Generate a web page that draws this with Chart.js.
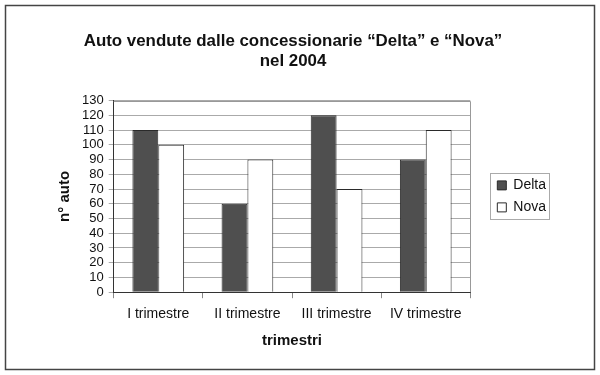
<!DOCTYPE html>
<html>
<head>
<meta charset="utf-8">
<script src="https://cdn.jsdelivr.net/npm/chart.js@4/dist/chart.umd.min.js"></script>
<style>
  html, body { margin: 0; padding: 0; background: #fff; }
  #wrap { width: 600px; height: 375px; }
</style>
</head>
<body>
<div id="wrap"><canvas id="autoChart" width="600" height="375"></canvas></div>
<script>
// dati
const trimestri = ['I trimestre', 'II trimestre', 'III trimestre', 'IV trimestre'];
const delta = [110, 60, 120, 90];
const nova = [100, 90, 70, 110];

// cornice esterna, bordo area del grafico e riquadro legenda
const cornici = {
  id: 'cornici',
  beforeDraw(chart) {
    const ctx = chart.ctx;
    ctx.save();
    ctx.fillStyle = '#fff';
    ctx.fillRect(0, 0, chart.width, chart.height);
    ctx.strokeStyle = '#444';
    ctx.lineWidth = 1.5;
    ctx.strokeRect(5.5, 5.5, chart.width - 11, chart.height - 11);
    ctx.restore();
  },
  afterDraw(chart) {
    const ctx = chart.ctx;
    const a = chart.chartArea;
    ctx.save();
    ctx.strokeStyle = '#999';
    ctx.lineWidth = 1;
    ctx.beginPath();
    ctx.moveTo(a.left, Math.round(a.top) + 0.5);
    ctx.lineTo(Math.round(a.right) + 0.5, Math.round(a.top) + 0.5);
    ctx.lineTo(Math.round(a.right) + 0.5, a.bottom);
    ctx.stroke();
    // riquadro attorno alle voci della legenda
    const hb = chart.legend.legendHitBoxes;
    if (hb && hb.length) {
      const x0 = Math.round(hb[0].left) - 7;
      const y0 = Math.round(hb[0].top) - 5;
      const x1 = Math.round(Math.max(...hb.map(h => h.left + h.width))) + 3;
      const y1 = Math.round(hb[hb.length - 1].top + hb[hb.length - 1].height) + 5;
      ctx.strokeStyle = '#aaa';
      ctx.strokeRect(x0 + 0.5, y0 + 0.5, x1 - x0, y1 - y0);
    }
    ctx.restore();
  }
};

new Chart(document.getElementById('autoChart'), {
  type: 'bar',
  data: {
    labels: trimestri,
    datasets: [
      { label: 'Delta', data: delta, backgroundColor: '#4f4f4f', borderColor: '#2a2a2a', borderWidth: 1 },
      { label: 'Nova', data: nova, backgroundColor: '#ffffff', borderColor: '#2a2a2a', borderWidth: 1 }
    ]
  },
  options: {
    responsive: false,
    animation: false,
    layout: { padding: { left: 30, right: 44, top: 31, bottom: 25 } },
    datasets: { bar: { categoryPercentage: 0.58, barPercentage: 1 } },
    plugins: {
      title: {
        display: true,
        text: ['Auto vendute dalle concessionarie \u201cDelta\u201d e \u201cNova\u201d', 'nel 2004'],
        color: '#111',
        font: { family: 'Liberation Sans', size: 16.9, weight: 'bold', lineHeight: 1.2 },
        padding: { top: 0, bottom: 29 }
      },
      legend: {
        position: 'right',
        fullSize: false,
        labels: {
          color: '#111',
          font: { family: 'Liberation Sans', size: 14 },
          boxWidth: 9,
          boxHeight: 9,
          padding: 8
        }
      },
      tooltip: { enabled: false }
    },
    scales: {
      x: {
        grid: { offset: true, drawOnChartArea: false, color: '#888', tickLength: 6 },
        border: { color: '#333', width: 1 },
        ticks: { color: '#111', font: { family: 'Liberation Sans', size: 14 }, padding: 8 },
        title: { display: true, text: 'trimestri', color: '#111', font: { family: 'Liberation Sans', size: 15, weight: 'bold' }, padding: { top: 1, bottom: 0 } }
      },
      y: {
        min: 0,
        max: 130,
        ticks: { stepSize: 10, autoSkip: false, color: '#111', font: { family: 'Liberation Sans', size: 13 }, padding: 5 },
        grid: { color: '#aaa', tickLength: 5, drawTicks: true },
        border: { color: '#333', width: 1 },
        title: { display: true, text: 'n\u00b0 auto', color: '#111', font: { family: 'Liberation Sans', size: 15, weight: 'bold' }, padding: { top: 26, bottom: 3 } }
      },
      // spazio vuoto tra area del grafico e legenda
      spazio: {
        type: 'linear',
        position: 'right',
        display: true,
        ticks: { display: false },
        grid: { display: false },
        border: { display: false },
        afterFit(scale) { scale.width = 19; }
      }
    }
  },
  plugins: [cornici]
});
</script>
</body>
</html>
